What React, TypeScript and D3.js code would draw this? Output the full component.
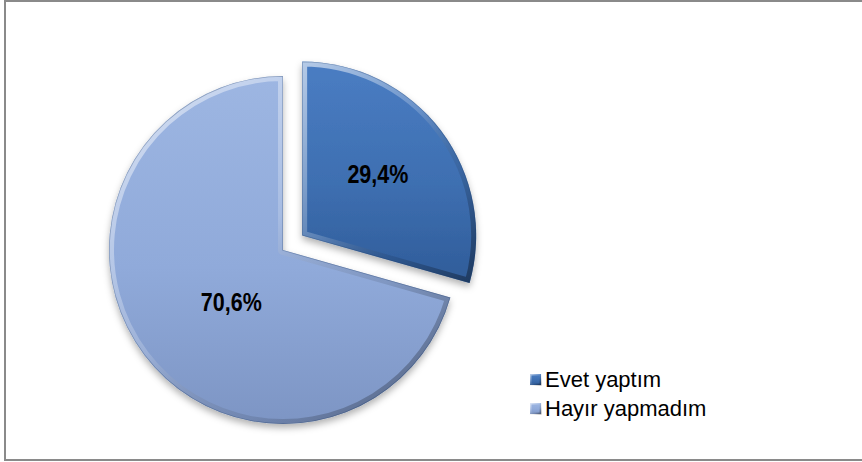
import React from "react";
import * as d3 from "d3";

const categories = ["Evet yaptım", "Hayır yapmadım"];
const values = [29.4, 70.6];
const valueLabels = ["29,4%", "70,6%"];

const W = 862;
const H = 462;
const CX = 283;
const CY = 250;
const R = 174;
const EXPLODE = [24, 0];
const LABEL_FACTOR = [0.56, 0.43];
const LABEL_NUDGE = [
  [-2, -2],
  [8, 7],
];
const FILLS = [
  { top: "#4A7DC3", mid: "#3E6FB1", bottom: "#2F5C99" },
  { top: "#9DB6E2", mid: "#90AADA", bottom: "#7D95C4" },
];

export default function App() {
  const pie = d3
    .pie<number>()
    .sort(null)
    .value((d) => d)
    .startAngle(0)
    .endAngle(2 * Math.PI);
  const arcs = pie(values);
  const arc = d3.arc<d3.PieArcDatum<number>>().innerRadius(0).outerRadius(R);

  return (
    <svg
      width={W}
      height={H}
      style={{ position: "absolute", left: 0, top: 0, background: "#fff" }}
      fontFamily="'Liberation Sans', Arial, sans-serif"
    >
      <defs>
        {FILLS.map((f, i) => (
          <linearGradient key={i} id={`g${i}`} x1="0" y1="0" x2="0" y2="1">
            <stop offset="0" stopColor={f.top} />
            <stop offset="0.55" stopColor={f.mid} />
            <stop offset="1" stopColor={f.bottom} />
          </linearGradient>
        ))}
        <linearGradient id="bevel" x1="0" y1="0" x2="1" y2="1">
          <stop offset="0" stopColor="#ffffff" stopOpacity="0.6" />
          <stop offset="0.45" stopColor="#ffffff" stopOpacity="0.18" />
          <stop offset="0.7" stopColor="#000000" stopOpacity="0.1" />
          <stop offset="1" stopColor="#000000" stopOpacity="0.38" />
        </linearGradient>
        <filter id="shadow" x="-20%" y="-20%" width="140%" height="140%">
          <feDropShadow dx="0" dy="4" stdDeviation="3.5" floodColor="#000" floodOpacity="0.3" />
        </filter>
        {arcs.map((a, i) => (
          <clipPath key={i} id={`clip${i}`}>
            <path d={arc(a) || ""} />
          </clipPath>
        ))}
      </defs>
      <rect x={5} y={1} width={880} height={459} fill="#fff" stroke="#8a8a8a" strokeWidth={2} />
      {arcs.map((a, i) => {
        const mid = (a.startAngle + a.endAngle) / 2;
        const dx = Math.sin(mid) * EXPLODE[i];
        const dy = -Math.cos(mid) * EXPLODE[i];
        const d = arc(a) || "";
        return (
          <g key={i} transform={`translate(${CX + dx},${CY + dy})`}>
            <path d={d} fill={`url(#g${i})`} filter="url(#shadow)" />
            <g clipPath={`url(#clip${i})`}>
              <path d={d} fill="none" stroke="url(#bevel)" strokeWidth={10} strokeLinejoin="round" />
              <path d={d} fill="none" stroke="#1f3f6e" strokeOpacity={0.35} strokeWidth={1.5} />
            </g>
          </g>
        );
      })}
      {arcs.map((a, i) => {
        const mid = (a.startAngle + a.endAngle) / 2;
        const dist = EXPLODE[i] + R * LABEL_FACTOR[i];
        const x = CX + Math.sin(mid) * dist + LABEL_NUDGE[i][0];
        const y = CY - Math.cos(mid) * dist + LABEL_NUDGE[i][1];
        return (
          <text
            key={i}
            transform={`translate(${x},${y}) scale(0.86,1)`}
            textAnchor="middle"
            dominantBaseline="central"
            fontWeight="bold"
            fontSize={25}
            fill="#000"
          >
            {valueLabels[i]}
          </text>
        );
      })}
      {categories.map((c, i) => {
        const y = 374 + i * 29;
        return (
          <g key={c}>
            <rect x={530} y={y} width={11} height={11} fill={`url(#g${i})`} />
            <rect x={530.5} y={y + 0.5} width={10} height={10} fill="none" stroke="url(#bevel)" strokeWidth={2} />
            <text x={545} y={y + 13} fontSize={22} fill="#000">
              {c}
            </text>
          </g>
        );
      })}
    </svg>
  );
}
